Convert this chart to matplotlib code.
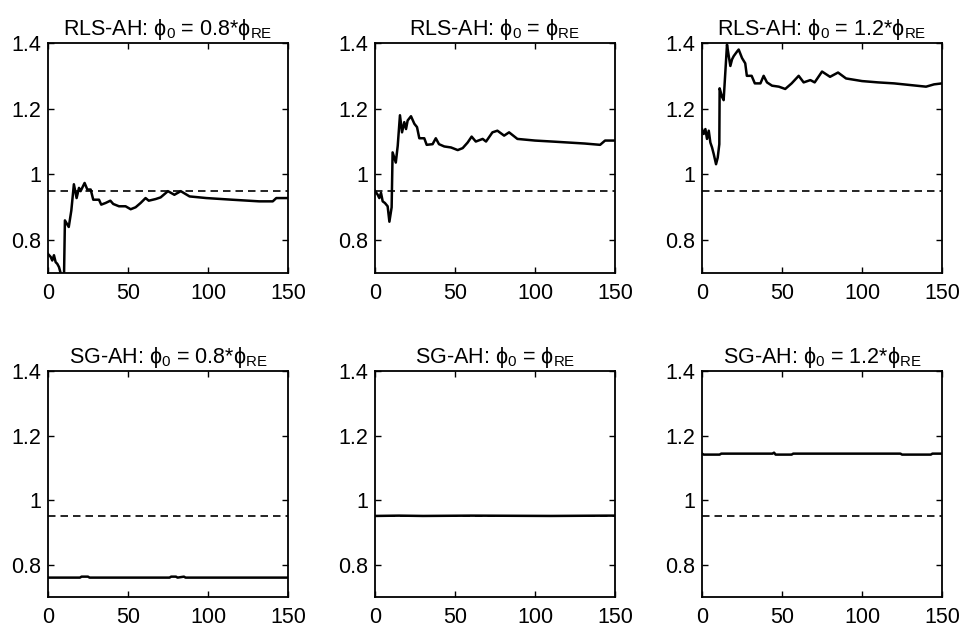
import matplotlib
matplotlib.use("Agg")
import matplotlib.pyplot as plt

plt.rcParams['font.family'] = ['Liberation Sans', 'DejaVu Sans']
plt.rcParams['mathtext.default'] = 'regular'

# reference level (dashed line)
ref_level = 0.95

# RLS-AH runs, phi_0 = 0.8, 1.0, 1.2 * phi_RE
rls_08_x = [0, 1.7, 2.7, 3.75, 4.8, 5.8, 6.9, 7.9, 9, 10, 10.6, 13, 14.6, 16.2, 17.9, 19.4,
            20.4, 22.9, 24.6, 26.7, 28.3, 31.9, 33.3, 36, 39, 40.8, 44.4, 48.5, 51.7, 54.8,
            57.9, 61, 63, 67.3, 70.4, 75, 79, 83, 88.5, 99, 115, 132, 140.5, 142.7, 150]
rls_08_y = [0.758, 0.749, 0.738, 0.754, 0.733, 0.728, 0.718, 0.70, 0.68, 0.68, 0.86, 0.84,
            0.89, 0.97, 0.928, 0.959, 0.949, 0.974, 0.954, 0.954, 0.923, 0.923, 0.908, 0.913,
            0.92, 0.91, 0.903, 0.903, 0.894, 0.90, 0.913, 0.928, 0.92, 0.925, 0.93, 0.949,
            0.938, 0.949, 0.933, 0.928, 0.923, 0.918, 0.918, 0.928, 0.928]

rls_10_x = [0, 1.7, 2.7, 3.75, 4.8, 6.2, 7.9, 9, 10.4, 11, 13, 14.2, 15.6, 16.9, 18.3, 19.4,
            20.4, 22.5, 24.6, 26.25, 27.7, 30.8, 32.3, 36, 38, 40, 43.3, 47.5, 51.7, 54.8,
            57.9, 60.4, 63, 67.3, 69.4, 73.4, 76.5, 80.7, 83.8, 89, 100, 110.7, 131, 140.7,
            143.8, 150]
rls_10_y = [0.95, 0.938, 0.928, 0.944, 0.918, 0.913, 0.903, 0.856, 0.90, 1.067, 1.036, 1.087,
            1.18, 1.128, 1.159, 1.138, 1.164, 1.177, 1.154, 1.144, 1.11, 1.11, 1.09, 1.092,
            1.11, 1.092, 1.085, 1.082, 1.074, 1.08, 1.097, 1.115, 1.10, 1.108, 1.10, 1.128,
            1.133, 1.118, 1.128, 1.108, 1.103, 1.10, 1.094, 1.09, 1.103, 1.103]

rls_12_x = [0, 1.04, 2.1, 3.1, 4.2, 5.2, 6.25, 7.3, 8.75, 9.8, 10.8, 11.0, 12.5, 13.5, 15.6,
            16.7, 17.7, 18.75, 19.8, 21.9, 22.9, 25, 27, 28, 31, 33, 36.5, 38.5, 40.6, 43.75,
            48, 52, 56, 60.4, 63.5, 67.7, 70.4, 75, 80, 85, 90, 100, 110, 120, 130, 140, 145, 150]
rls_12_y = [1.138, 1.123, 1.138, 1.108, 1.133, 1.097, 1.082, 1.062, 1.031, 1.051, 1.092, 1.262,
            1.236, 1.226, 1.395, 1.36, 1.33, 1.35, 1.36, 1.374, 1.38, 1.354, 1.338, 1.30, 1.30,
            1.277, 1.277, 1.30, 1.28, 1.27, 1.267, 1.26, 1.277, 1.30, 1.28, 1.287, 1.28, 1.313,
            1.297, 1.31, 1.292, 1.284, 1.28, 1.277, 1.272, 1.267, 1.274, 1.277]

# SG-AH runs (nearly flat)
sg_08_x = [0, 20, 21, 25, 26, 76, 77, 80, 81, 85, 86, 150]
sg_08_y = [0.760, 0.760, 0.763, 0.763, 0.760, 0.760, 0.763, 0.763, 0.760, 0.763, 0.760, 0.760]

sg_10_x = [0, 15, 30, 60, 110, 145, 150]
sg_10_y = [0.951, 0.952, 0.951, 0.952, 0.951, 0.952, 0.952]

sg_12_x = [0, 1, 11, 12, 44, 45, 46, 56, 57, 124, 125, 143, 144, 150]
sg_12_y = [1.144, 1.141, 1.141, 1.144, 1.144, 1.147, 1.141, 1.141, 1.144, 1.144, 1.141,
           1.141, 1.144, 1.144]

titles = [
    "RLS-AH: ϕ$_0$ = 0.8*ϕ$_{RE}$",
    "RLS-AH: ϕ$_0$ = ϕ$_{RE}$",
    "RLS-AH: ϕ$_0$ = 1.2*ϕ$_{RE}$",
    "SG-AH: ϕ$_0$ = 0.8*ϕ$_{RE}$",
    "SG-AH: ϕ$_0$ = ϕ$_{RE}$",
    "SG-AH: ϕ$_0$ = 1.2*ϕ$_{RE}$",
]
series = [(rls_08_x, rls_08_y), (rls_10_x, rls_10_y), (rls_12_x, rls_12_y),
          (sg_08_x, sg_08_y), (sg_10_x, sg_10_y), (sg_12_x, sg_12_y)]

x_ticks = [0, 50, 100, 150]
y_ticks = [0.8, 1.0, 1.2, 1.4]
y_tick_labels = ["0.8", "1", "1.2", "1.4"]

fig = plt.figure(figsize=(9.65, 6.29), dpi=100)

lefts = [0.0497, 0.3886, 0.7275]
rows = [(0.566, 0.3657), (0.0509, 0.3593)]
w = 0.2487

for i, ((xs, ys), title) in enumerate(zip(series, titles)):
    bottom, h = rows[i // 3]
    ax = fig.add_axes([lefts[i % 3], bottom, w, h])
    ax.axhline(ref_level, color="black", lw=1.2, ls=(0, (4.5, 3)))
    ax.plot(xs, ys, color="black", lw=1.8)
    ax.set_xlim(0, 150)
    ax.set_ylim(0.7, 1.4)
    ax.set_xticks(x_ticks)
    ax.set_yticks(y_ticks)
    ax.set_yticklabels(y_tick_labels)
    ax.tick_params(direction="in", top=True, right=True, length=4, width=1,
                   labelsize=15.5)
    ax.tick_params(axis="x", pad=7)
    ax.tick_params(axis="y", pad=5)
    for s in ax.spines.values():
        s.set_linewidth(1.3)
    ax.set_title(title, fontsize=15.5, pad=6)

fig.savefig("out.png", dpi=100)
